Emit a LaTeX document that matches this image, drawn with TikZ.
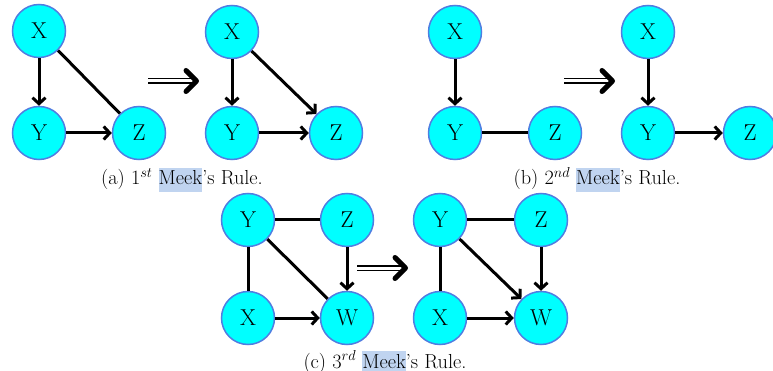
\documentclass[tikz,border=0pt]{standalone}
\usepackage{fontspec}
\usetikzlibrary{arrows.meta}
\definecolor{nodefill}{RGB}{0,255,255}
\definecolor{nodeborder}{RGB}{80,125,225}
\definecolor{hl}{RGB}{192,212,240}
\newcommand\hlt[1]{{\setlength{\fboxsep}{0pt}\colorbox{hl}{\strut#1}}}
\tikzset{
  var/.style={circle, draw=nodeborder, fill=nodefill, line width=1.5pt,
    minimum size=53pt, inner sep=0pt, font=\fontsize{23}{27}\selectfont},
  edge/.style={line width=3pt, black},
  dir/.style={edge, -{Straight Barb[length=6pt,width=13pt]}},
  capt/.style={anchor=base, font=\fontsize{20.3}{24}\selectfont},
  impl/.pic={
    \draw[line width=1.8pt] (0,-2.4) -- (44,-2.4) (0,2.4) -- (44,2.4);
    \draw[line width=5pt, line cap=round, line join=round] (38,-10.5) -- (48.5,0) -- (38,10.5);
  }
}
\begin{document}
\begin{tikzpicture}[x=1pt, y=-1pt]
\useasboundingbox (0,0) rectangle (773,371);
% (a)
\node[var] (a1x) at (39,31) {X};
\node[var] (a1y) at (39,133) {Y};
\node[var] (a1z) at (139,133) {Z};
\draw[dir] (a1x) -- (a1y);
\draw[edge] (a1x) -- (a1z);
\draw[dir] (a1y) -- (a1z);
\pic at (148,81) {impl};
\node[var] (a2x) at (232,32) {X};
\node[var] (a2y) at (232,133) {Y};
\node[var] (a2z) at (336,133) {Z};
\draw[dir] (a2x) -- (a2y);
\draw[dir] (a2x) -- (a2z);
\draw[dir] (a2y) -- (a2z);
\node[capt] (capa) at (182,185) {(a) 1$^{st}$ \hlt{Meek}'s Rule.};
% (b)
\node[var] (b1x) at (455,32) {X};
\node[var] (b1y) at (455,133) {Y};
\node[var] (b1z) at (555,133) {Z};
\draw[dir] (b1x) -- (b1y);
\draw[edge] (b1y) -- (b1z);
\pic at (564,81) {impl};
\node[var] (b2x) at (648,32) {X};
\node[var] (b2y) at (648,133) {Y};
\node[var] (b2z) at (750,133) {Z};
\draw[dir] (b2x) -- (b2y);
\draw[dir] (b2y) -- (b2z);
\node[capt] (capb) at (597,185) {(b) 2$^{nd}$ \hlt{Meek}'s Rule.};
% (c)
\node[var] (c1y) at (248,220) {Y};
\node[var] (c1z) at (347,220) {Z};
\node[var] (c1x) at (248,318) {X};
\node[var] (c1w) at (347,318) {W};
\draw[edge] (c1y) -- (c1z);
\draw[edge] (c1y) -- (c1x);
\draw[edge] (c1y) -- (c1w);
\draw[dir] (c1z) -- (c1w);
\draw[dir] (c1x) -- (c1w);
\pic at (357,268) {impl};
\node[var] (c2y) at (440,220) {Y};
\node[var] (c2z) at (541,220) {Z};
\node[var] (c2x) at (440,318) {X};
\node[var] (c2w) at (541,318) {W};
\draw[edge] (c2y) -- (c2z);
\draw[edge] (c2y) -- (c2x);
\draw[dir] (c2y) -- (c2w);
\draw[dir] (c2z) -- (c2w);
\draw[dir] (c2x) -- (c2w);
\node[capt] (capc) at (385,368) {(c) 3$^{rd}$ \hlt{Meek}'s Rule.};
\end{tikzpicture}
\end{document}
